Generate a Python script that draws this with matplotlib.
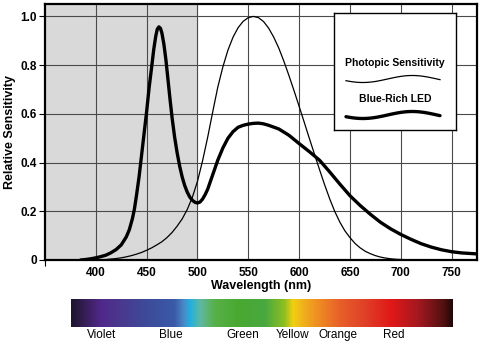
import numpy as np
import matplotlib
matplotlib.use("Agg")
import matplotlib.pyplot as plt
from matplotlib.colors import LinearSegmentedColormap

plt.rcParams['font.family'] = ['Liberation Sans', 'DejaVu Sans']

# Photopic sensitivity (thin line)
photopic_nm = [400, 405, 410, 415, 420, 425, 430, 435, 440, 445, 450, 455, 460, 465, 470,
               475, 480, 485, 490, 495, 500, 505, 510, 515, 520, 525, 530, 535, 540, 545,
               550, 555, 560, 565, 570, 575, 580, 585, 590, 595, 600, 605, 610, 615, 620,
               625, 630, 635, 640, 645, 650, 655, 660, 665, 670, 675, 680, 685, 690, 695,
               700, 705, 710]
photopic_val = [0.0, 0.001, 0.002, 0.004, 0.006, 0.009, 0.013, 0.018, 0.024, 0.031, 0.040,
                0.050, 0.062, 0.075, 0.092, 0.113, 0.139, 0.169, 0.208, 0.258, 0.323,
                0.407, 0.503, 0.608, 0.71, 0.793, 0.862, 0.915, 0.954, 0.980, 0.995, 1.0,
                0.995, 0.979, 0.952, 0.915, 0.87, 0.816, 0.757, 0.695, 0.631, 0.566, 0.50,
                0.436, 0.372, 0.310, 0.252, 0.200, 0.156, 0.120, 0.092, 0.068, 0.050,
                0.036, 0.026, 0.018, 0.012, 0.008, 0.005, 0.003, 0.002, 0.001, 0.0]

# Blue-rich LED (thick line)
led_nm = [385, 390, 395, 400, 405, 410, 415, 420, 425, 430, 433, 436, 438, 440, 442.5, 445,
          447.5, 450, 452.5, 455, 457, 459, 460.5, 462, 463.5, 465, 467, 469, 471, 473,
          475, 477.5, 480, 482.5, 485, 487.5, 490, 492.5, 495, 497.5, 500, 502.5, 505,
          507.5, 510, 515, 520, 525, 530, 535, 540, 545, 550, 555, 560, 565, 570, 580,
          590, 600, 610, 620, 630, 640, 650, 660, 670, 680, 690, 700, 710, 720, 730, 740,
          750, 760, 775]
led_val = [0.0, 0.002, 0.005, 0.009, 0.014, 0.02, 0.03, 0.043, 0.062, 0.095, 0.125, 0.17,
           0.21, 0.265, 0.34, 0.43, 0.52, 0.61, 0.71, 0.795, 0.865, 0.92, 0.948, 0.957,
           0.952, 0.932, 0.885, 0.82, 0.74, 0.66, 0.585, 0.505, 0.44, 0.385, 0.34, 0.305,
           0.278, 0.258, 0.245, 0.237, 0.234, 0.238, 0.25, 0.268, 0.29, 0.35, 0.41, 0.46,
           0.50, 0.527, 0.545, 0.553, 0.558, 0.561, 0.562, 0.559, 0.553, 0.538, 0.512,
           0.478, 0.445, 0.41, 0.362, 0.312, 0.264, 0.224, 0.188, 0.155, 0.128, 0.105,
           0.085, 0.067, 0.053, 0.042, 0.034, 0.029, 0.025]

x_ticks = [400, 450, 500, 550, 600, 650, 700, 750]
y_ticks = [0, 0.2, 0.4, 0.6, 0.8, 1.0]
y_labels = ['0', '0.2', '0.4', '0.6', '0.8', '1.0']
color_names = ['Violet', 'Blue', 'Green', 'Yellow', 'Orange', 'Red']

W, H = 483, 347
fig = plt.figure(figsize=(W / 100, H / 100), dpi=100)
ax = fig.add_axes([45 / W, 1 - 260 / H, 432 / W, 256 / H])
ax.set_xlim(350, 775)
ax.set_ylim(0, 1.051)

ax.axvspan(350, 500, color='#d9d9d9', zorder=0)
for xv in x_ticks:
    ax.axvline(xv, color='#4a4a4a', lw=0.8, zorder=1)
for yv in y_ticks[1:]:
    ax.axhline(yv, color='#4a4a4a', lw=0.8, zorder=1)

ax.plot(photopic_nm, photopic_val, color='black', lw=0.9, zorder=3,
        solid_joinstyle='round')
ax.plot(led_nm, led_val, color='black', lw=2.4, zorder=4,
        solid_capstyle='round', solid_joinstyle='round')

ax.set_xticks(x_ticks)
ax.set_xticklabels([str(v) for v in x_ticks], fontsize=8.5, fontweight='bold')
ax.set_xticks([350], minor=True)
ax.set_yticks(y_ticks)
ax.set_yticklabels(y_labels, fontsize=8.5, fontweight='bold')
ax.tick_params(axis='y', direction='out', length=4, width=0.8, pad=2)
ax.tick_params(axis='x', which='major', length=0, pad=5)
ax.tick_params(axis='x', which='minor', direction='out', length=4, width=0.8)
for s in ax.spines.values():
    s.set_linewidth(1.6)
ax.set_xlabel('Wavelength (nm)', fontsize=9, fontweight='bold', labelpad=1)
ax.set_ylabel('Relative Sensitivity', fontsize=9, fontweight='bold', labelpad=3)

# Custom legend box
lg = fig.add_axes([334 / W, 1 - 130 / H, 122 / W, 117 / H])
lg.set_xlim(0, 1)
lg.set_ylim(0, 1)
lg.set_xticks([])
lg.set_yticks([])
for s in lg.spines.values():
    s.set_linewidth(1.0)
lg.text(0.5, 1 - (63 - 13) / 117, 'Photopic Sensitivity', ha='center', va='center',
        fontsize=7.5, fontweight='bold')
lg.text(0.5, 1 - (99 - 13) / 117, 'Blue-Rich LED', ha='center', va='center',
        fontsize=7.5, fontweight='bold')
t = np.linspace(0, 1, 100)
wave = -np.sin(2 * np.pi * (t * 0.95 + 0.08))
xs = (346 - 334 + t * 94) / 122
lg.plot(xs, 1 - (79 - 13) / 117 + wave * 3.5 / 117, color='black', lw=0.9)
lg.plot(xs, 1 - (115 - 13) / 117 + wave * 3.5 / 117, color='black', lw=2.4,
        solid_capstyle='round')

# Spectrum bar
stops = [(0.0, '#1e1530'), (0.04, '#3a1f5c'), (0.076, '#50288a'), (0.14, '#483c90'),
         (0.20, '#3c4c9a'), (0.27, '#3a5aa8'), (0.295, '#4a8ac8'), (0.311, '#20b0e0'),
         (0.338, '#60b8a0'), (0.377, '#58b048'), (0.44, '#48a830'), (0.508, '#48a840'),
         (0.56, '#90c020'), (0.581, '#f0d010'), (0.625, '#f0a020'), (0.704, '#e86028'),
         (0.77, '#e04028'), (0.84, '#e01818'), (0.914, '#a01820'), (0.979, '#501010'),
         (1.0, '#200808')]
cmap = LinearSegmentedColormap.from_list('spec', stops)
cb = fig.add_axes([71 / W, 1 - 327 / H, 382 / W, 28 / H])
cb.imshow(np.linspace(0, 1, 512)[None, :], aspect='auto', cmap=cmap,
          extent=[0, 1, 0, 1])
cb.set_axis_off()

label_x = [102, 171, 243, 293, 338, 394]
for name, lx in zip(color_names, label_x):
    fig.text(lx / W, 1 - 335 / H, name, ha='center', va='center', fontsize=8.5)

fig.savefig('out.png', dpi=100)
